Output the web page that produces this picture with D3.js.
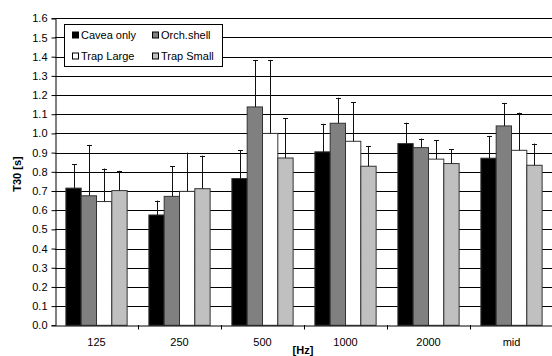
<!DOCTYPE html>
<meta charset="utf-8">
<script src="https://d3js.org/d3.v7.min.js"></script>
<style>
  body { margin: 0; background: #fff; }
  svg text { font-family: "Liberation Sans", Arial, sans-serif; }
</style>
<div id="chart"></div>
<script>
// data
var categories = ["125", "250", "500", "1000", "2000", "mid"];
var seriesNames = ["Cavea only", "Orch.shell", "Trap Large", "Trap Small"];
var cavea     = [0.715, 0.575, 0.765, 0.904, 0.947, 0.871];
var orch      = [0.675, 0.672, 1.138, 1.053, 0.926, 1.039];
var trapLarge = [0.645, 0.698, 1.000, 0.959, 0.866, 0.912];
var trapSmall = [0.702, 0.712, 0.872, 0.829, 0.843, 0.834];
// upper error bars
var caveaErr     = [0.125, 0.075, 0.147, 0.146, 0.109, 0.116];
var orchErr      = [0.265, 0.158, 0.245, 0.133, 0.047, 0.120];
var trapLargeErr = [0.172, 0.202, 0.383, 0.203, 0.100, 0.196];
var trapSmallErr = [0.103, 0.172, 0.207, 0.106, 0.075, 0.113];
var yTicks = d3.range(0, 17).map(function(i) { return i / 10; });

var values = [cavea, orch, trapLarge, trapSmall];
var errs = [caveaErr, orchErr, trapLargeErr, trapSmallErr];
var fills = ["#000000", "#808080", "#ffffff", "#c0c0c0"];

var W = 552, H = 356;
var plotLeft = 55, plotRight = 553, plotTop = 18.3, plotBottom = 325.3;

var svg = d3.select("#chart").append("svg")
    .attr("width", W)
    .attr("height", H);

var y = d3.scaleLinear().domain([0, 1.6]).range([plotBottom, plotTop]);
var x0 = d3.scaleBand().domain(categories).range([plotLeft, plotRight]).padding(0);
var x1 = d3.scaleBand().domain(seriesNames).range([0, x0.bandwidth()])
    .paddingInner(0).paddingOuter(0.71);

// gridlines
svg.append("g")
  .selectAll("line")
  .data(yTicks.slice(1))
  .enter().append("line")
    .attr("x1", plotLeft).attr("x2", W)
    .attr("y1", function(d) { return Math.round(y(d)) + 0.5; })
    .attr("y2", function(d) { return Math.round(y(d)) + 0.5; })
    .attr("stroke", "#000")
    .attr("stroke-width", 1);

// bars
var rows = [];
categories.forEach(function(c, i) {
  seriesNames.forEach(function(s, j) {
    rows.push({cat: c, s: s, j: j, v: values[j][i], e: errs[j][i]});
  });
});

svg.append("g")
  .selectAll("rect")
  .data(rows)
  .enter().append("rect")
    .attr("x", function(d) { return x0(d.cat) + x1(d.s); })
    .attr("y", function(d) { return y(d.v); })
    .attr("width", x1.bandwidth())
    .attr("height", function(d) { return y(0) - y(d.v); })
    .attr("fill", function(d) { return fills[d.j]; })
    .attr("stroke", "#333")
    .attr("stroke-width", 1);

// error bars (upper only)
function ex(d) { return Math.round(x0(d.cat) + x1(d.s) + x1.bandwidth() / 2); }
var eb = svg.append("g").attr("stroke", "#111").attr("stroke-width", 1);
eb.selectAll("line.v")
  .data(rows)
  .enter().append("line")
    .attr("class", "v")
    .attr("x1", function(d) { return ex(d) + 0.5; })
    .attr("x2", function(d) { return ex(d) + 0.5; })
    .attr("y1", function(d) { return y(d.v); })
    .attr("y2", function(d) { return y(d.v + d.e); });
eb.selectAll("line.c")
  .data(rows)
  .enter().append("line")
    .attr("class", "c")
    .attr("x1", function(d) { return ex(d) - 2; })
    .attr("x2", function(d) { return ex(d) + 3; })
    .attr("y1", function(d) { return Math.round(y(d.v + d.e)) + 0.5; })
    .attr("y2", function(d) { return Math.round(y(d.v + d.e)) + 0.5; });

// y axis
var yAxis = svg.append("g")
    .attr("transform", "translate(" + (plotLeft + 0.5) + ",0)")
    .call(d3.axisLeft(y).tickValues(yTicks).tickFormat(d3.format(".1f"))
      .tickSize(4).tickPadding(4));
yAxis.select(".domain").attr("stroke", "#000");
yAxis.selectAll("text").attr("font-size", "11px").attr("fill", "#000")
    .style("font-family", "'Liberation Sans', Arial, sans-serif");

// x axis
var xAxis = svg.append("g")
    .attr("transform", "translate(0," + (Math.round(plotBottom) + 0.5) + ")")
    .call(d3.axisBottom(x0).tickSize(0).tickPadding(13));
xAxis.select(".domain").attr("stroke", "#000");
xAxis.selectAll("text").attr("font-size", "11px").attr("fill", "#000")
    .style("font-family", "'Liberation Sans', Arial, sans-serif");
svg.append("g")
  .selectAll("line")
  .data(categories.slice(1))
  .enter().append("line")
    .attr("x1", function(d) { return Math.round(x0(d)) + 0.5; })
    .attr("x2", function(d) { return Math.round(x0(d)) + 0.5; })
    .attr("y1", Math.round(plotBottom))
    .attr("y2", Math.round(plotBottom) + 4.5)
    .attr("stroke", "#000");

// axis titles
svg.append("text")
    .attr("transform", "translate(21,174) rotate(-90)")
    .attr("text-anchor", "middle")
    .attr("font-size", "11px")
    .attr("font-weight", "bold")
    .text("T30 [s]");
svg.append("text")
    .attr("x", 303)
    .attr("y", 354)
    .attr("text-anchor", "middle")
    .attr("font-size", "11px")
    .attr("font-weight", "bold")
    .text("[Hz]");

// legend
var lg = svg.append("g");
lg.append("rect")
    .attr("x", 64.5).attr("y", 24.5)
    .attr("width", 158).attr("height", 42)
    .attr("fill", "#fff").attr("stroke", "#000");
var lx = [72, 152], ly = [31.5, 52.5];
seriesNames.forEach(function(s, j) {
  var cx = lx[j % 2], cy = ly[Math.floor(j / 2)];
  lg.append("rect")
      .attr("x", cx + 0.5).attr("y", cy + 0.5)
      .attr("width", 6).attr("height", 6)
      .attr("fill", fills[j]).attr("stroke", "#000");
  lg.append("text")
      .attr("x", cx + 9).attr("y", cy + 7.5)
      .attr("font-size", "11px")
      .text(s);
});
</script>
